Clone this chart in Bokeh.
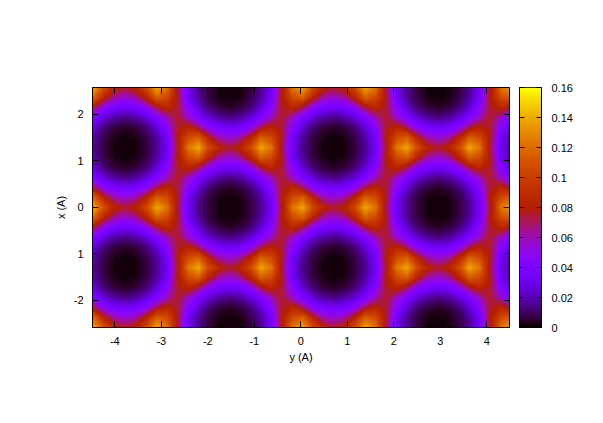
import numpy as np
from bokeh.embed import file_html
from bokeh.layouts import row
from bokeh.models import FixedTicker, LinearAxis, LinearColorMapper, Range1d
from bokeh.plotting import figure
from bokeh.resources import INLINE

# surface values, in units of 0.001; the picture repeats
# these seven rows, going from one dark centre's row to the saddle's row
row_a = [33,15,6,1,0,1,6,15,33,74,124,140,106,84,76,84,106,140,124,74,33,15,6,1,0,1,6,15,33,74,124,140,106,84,76,84,106,140,124,74,33,15]
row_b = [35,17,7,2,1,2,7,17,35,78,106,116,84,62,55,62,84,116,106,78,35,17,7,2,1,2,7,17,35,78,106,116,84,62,55,62,84,116,106,78,35,17]
row_c = [45,25,12,6,4,6,12,25,45,76,86,72,47,36,33,36,47,72,86,76,45,25,12,6,4,6,12,25,45,76,86,72,47,36,33,36,47,72,86,76,45,25]
row_d = [58,40,25,17,14,17,25,40,58,76,58,40,25,17,14,17,25,40,58,76,58,40,25,17,14,17,25,40,58,76,58,40,25,17,14,17,25,40,58,76,58,40]
row_e = [86,72,47,36,33,36,47,72,86,76,45,25,12,6,4,6,12,25,45,76,86,72,47,36,33,36,47,72,86,76,45,25,12,6,4,6,12,25,45,76,86,72]
row_f = [106,116,84,62,55,62,84,116,106,78,35,17,7,2,1,2,7,17,35,78,106,116,84,62,55,62,84,116,106,78,35,17,7,2,1,2,7,17,35,78,106,116]
row_g = [124,140,106,84,76,84,106,140,124,74,33,15,6,1,0,1,6,15,33,74,124,140,106,84,76,84,106,140,124,74,33,15,6,1,0,1,6,15,33,74,124,140]
# top row first
surface = [row_g, row_f, row_e, row_d, row_c, row_b, row_a, row_b, row_c, row_d, row_e, row_f,
           row_g, row_f, row_e, row_d, row_c, row_b, row_a, row_b, row_c, row_d, row_e, row_f, row_g]
y_ticks = [-4, -3, -2, -1, 0, 1, 2, 3, 4]
y_tick_labels = {-4: "-4", -3: "-3", -2: "-2", -1: "-1", 0: "0", 1: "1", 2: "2", 3: "3", 4: "4"}
x_ticks = [-2, -1, 0, 1, 2]
x_tick_labels = {-2: "-2", -1: "1", 0: "0", 1: "1", 2: "2"}
bar_ticks = [0, 0.02, 0.04, 0.06, 0.08, 0.1, 0.12, 0.14, 0.16]
bar_labels = ["0", "0.02", "0.04", "0.06", "0.08", "0.1", "0.12", "0.14", "0.16"]
FONT = "Liberation Sans"


def gnuplot_color(g):
    r = np.sqrt(g)
    gr = g ** 3
    b = max(np.sin(2 * np.pi * g), 0)
    return "#%02x%02x%02x" % (int(r * 255), int(gr * 255), int(b * 255))


palette = [gnuplot_color(g) for g in np.linspace(0, 1, 256)]
mapper = LinearColorMapper(palette=palette, low=0, high=0.16)
z = np.array(surface, dtype=float)[::-1] * 0.001
node_x = -4.667 + 0.2242 * np.arange(z.shape[1])
node_y = -2.591 + 0.21505 * np.arange(z.shape[0])
levels = np.arange(0, 0.1395, 0.002)


def style(ax, ticks, labels=True):
    ax.ticker = FixedTicker(ticks=ticks)
    ax.major_tick_in = 6
    ax.major_tick_out = 0
    ax.minor_tick_line_color = None
    ax.axis_line_color = "black"
    ax.major_tick_line_color = "black"
    ax.major_label_text_font = FONT
    ax.major_label_text_font_size = "11px"
    ax.major_label_text_color = "black" if labels else None
    ax.axis_label_text_font = FONT
    ax.axis_label_text_font_size = "11px"
    ax.axis_label_text_font_style = "normal"
    ax.axis_label_text_color = "black"


p = figure(width=511, height=415, min_border_left=92, min_border_right=2,
           min_border_top=87, min_border_bottom=88, toolbar_location=None,
           output_backend="svg", x_range=Range1d(-4.48, 4.488),
           y_range=Range1d(-2.591, 2.57), x_axis_label="y (A)", y_axis_label="x (A)")
p.grid.visible = False
p.outline_line_color = "black"
# every band is painted over the one below, so that no seam shows between them
for i, level in enumerate(levels):
    lower = -1.0 if i == 0 else level
    p.contour(node_x, node_y, z, levels=[lower, 1.0],
              fill_color=[gnuplot_color((level + 0.001) / 0.16)], line_color=None)
style(p.xaxis[0], y_ticks)
style(p.yaxis[0], x_ticks)
p.xaxis[0].major_label_standoff = 9
p.yaxis[0].major_label_standoff = 9
p.xaxis[0].major_label_overrides = y_tick_labels
p.yaxis[0].major_label_overrides = x_tick_labels
p.xaxis[0].axis_label_standoff = 3
p.yaxis[0].axis_label_standoff = 4
top = LinearAxis()
right = LinearAxis()
style(top, y_ticks, False)
style(right, x_ticks, False)
p.add_layout(top, "above")
p.add_layout(right, "right")

bar = figure(width=76, height=415, min_border_left=8, min_border_right=46,
             min_border_top=87, min_border_bottom=88, toolbar_location=None,
             output_backend="svg", x_range=Range1d(0, 1), y_range=Range1d(0, 0.16),
             x_axis_location=None, y_axis_location=None)
bar.grid.visible = False
bar.outline_line_color = "black"
gradient = np.linspace(0, 0.16, 256).reshape(256, 1)
bar.image(image=[gradient], x=0, y=0, dw=1, dh=0.16, color_mapper=mapper)
bar_left = LinearAxis()
bar_right = LinearAxis()
style(bar_left, bar_ticks, False)
style(bar_right, bar_ticks)
bar_left.major_tick_in = 5
bar_right.major_tick_in = 5
bar_right.major_label_standoff = 10
bar_right.major_label_overrides = dict(zip(bar_ticks, bar_labels))
bar.add_layout(bar_left, "left")
bar.add_layout(bar_right, "right")

layout = row(p, bar, spacing=0)
open("out.html", "w").write(file_html(layout, INLINE))
